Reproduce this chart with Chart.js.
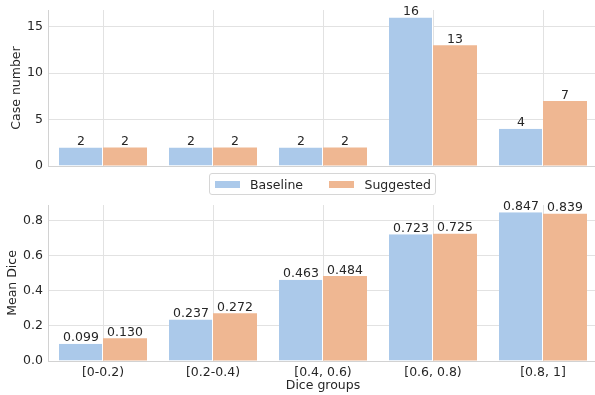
<!DOCTYPE html>
<html>
<head>
<meta charset="utf-8">
<script src="https://cdn.jsdelivr.net/npm/chart.js@4.4.1/dist/chart.umd.min.js"></script>
<style>
  html, body { margin:0; padding:0; background:#fff; width:595px; height:395px; overflow:hidden; position:relative; }
  canvas { position:absolute; left:0; }
  #c1 { top:0; }
  #c2 { top:190px; }
  .lg-box { position:absolute; left:209px; top:173px; width:225px; height:20px; border:1px solid #d6d6d6; border-radius:3px; background:rgba(255,255,255,0.8); }
  .lg-patch { position:absolute; top:181px; width:25px; height:7px; }
  .lg-text { position:absolute; top:176.5px; font:12.5px/15px "DejaVu Sans"; color:#262626; white-space:nowrap; }
</style>
</head>
<body>
<canvas id="c1" width="600" height="172"></canvas>
<canvas id="c2" width="600" height="205"></canvas>
<div class="lg-box"></div>
<div class="lg-patch" id="p1" style="left:215px;"></div>
<div class="lg-text" id="t1" style="left:250px;"></div>
<div class="lg-patch" id="p2" style="left:329px;"></div>
<div class="lg-text" id="t2" style="left:364.5px;"></div>
<script>
// ---- data ----
const categories = ['[0-0.2)', '[0.2-0.4)', '[0.4, 0.6)', '[0.6, 0.8)', '[0.8, 1]'];
const seriesNames = ['Baseline', 'Suggested'];
const caseBaseline = [2, 2, 2, 16, 4];
const caseSuggested = [2, 2, 2, 13, 7];
const diceBaseline = [0.099, 0.237, 0.463, 0.723, 0.847];
const diceSuggested = [0.130, 0.272, 0.484, 0.725, 0.839];
const caseTicks = [0, 5, 10, 15];
const diceTicks = [0.0, 0.2, 0.4, 0.6, 0.8];
const caseMax = 16.8;
const diceMax = 0.889;

// ---- styles ----
const blue = '#abc9ea';
const orange = '#efb792';
const textColor = '#262626';
const gridColor = '#e2e2e2';
const spineColor = '#d2d2d2';
const FONT = { family: "'DejaVu Sans'", size: 12.5 };

Chart.defaults.font.family = FONT.family;
Chart.defaults.font.size = FONT.size;
Chart.defaults.color = textColor;

document.getElementById('p1').style.background = blue;
document.getElementById('p2').style.background = orange;
document.getElementById('t1').textContent = seriesNames[0];
document.getElementById('t2').textContent = seriesNames[1];

const valueLabels = {
  id: 'valueLabels',
  afterDatasetsDraw(chart, args, opts) {
    const ctx = chart.ctx;
    ctx.save();
    ctx.font = FONT.size + 'px ' + FONT.family;
    ctx.fillStyle = textColor;
    ctx.textAlign = 'center';
    ctx.textBaseline = 'alphabetic';
    chart.data.datasets.forEach((ds, i) => {
      const meta = chart.getDatasetMeta(i);
      meta.data.forEach((bar, j) => {
        ctx.fillText(opts.fmt(ds.data[j]), bar.x, bar.y - 2.5);
      });
    });
    ctx.restore();
  }
};

function makeDatasets(a, b) {
  return [
    { label: seriesNames[0], data: a, backgroundColor: blue, borderColor: '#ffffff',
      borderWidth: { left: 0, right: 1, top: 0, bottom: 0 }, borderSkipped: false,
      categoryPercentage: 0.8, barPercentage: 1.0 },
    { label: seriesNames[1], data: b, backgroundColor: orange, borderWidth: 0,
      categoryPercentage: 0.8, barPercentage: 1.0 }
  ];
}

function yScale(max, ticks, titleText, titlePad, fmt) {
  return {
    min: 0, max: max,
    afterBuildTicks: s => { s.ticks = ticks.map(v => ({ value: v })); },
    afterFit: s => { s.width = 48; s.paddingTop = 0; s.paddingBottom = 0; },
    grid: { color: gridColor, lineWidth: 1, drawTicks: false },
    border: { color: spineColor, width: 1 },
    ticks: { padding: 5, color: textColor, font: FONT, callback: fmt },
    title: { display: true, text: titleText, color: textColor, font: FONT, padding: { top: titlePad, bottom: 0 } }
  };
}

// top chart
new Chart(document.getElementById('c1'), {
  type: 'bar',
  data: { labels: categories, datasets: makeDatasets(caseBaseline, caseSuggested) },
  options: {
    responsive: false, animation: false,
    layout: { padding: { left: 0, right: 2, top: 10, bottom: 6 } },
    plugins: { legend: { display: false }, tooltip: { enabled: false },
      valueLabels: { fmt: v => String(v) } },
    scales: {
      x: {
        grid: { color: gridColor, lineWidth: 1, offset: false, drawTicks: false },
        border: { color: spineColor, width: 1 },
        ticks: { display: false },
        afterFit: s => { s.height = 0; }
      },
      y: yScale(caseMax, caseTicks, 'Case number', 9.5, v => String(v))
    }
  },
  plugins: [valueLabels]
});

// bottom chart
new Chart(document.getElementById('c2'), {
  type: 'bar',
  data: { labels: categories, datasets: makeDatasets(diceBaseline, diceSuggested) },
  options: {
    responsive: false, animation: false,
    layout: { padding: { left: 0, right: 2, top: 15, bottom: 0 } },
    plugins: { legend: { display: false }, tooltip: { enabled: false },
      valueLabels: { fmt: v => v.toFixed(3) } },
    scales: {
      x: {
        grid: { color: gridColor, lineWidth: 1, offset: false, drawTicks: false },
        border: { color: spineColor, width: 1 },
        ticks: { padding: 4, color: textColor, font: FONT, maxRotation: 0 },
        title: { display: true, text: 'Dice groups', color: textColor, font: FONT, padding: { top: 0, bottom: 2 } },
        afterFit: s => { s.height = 34; }
      },
      y: yScale(diceMax, diceTicks, 'Mean Dice', 5, v => Number(v).toFixed(1))
    }
  },
  plugins: [valueLabels]
});
</script>
</body>
</html>
